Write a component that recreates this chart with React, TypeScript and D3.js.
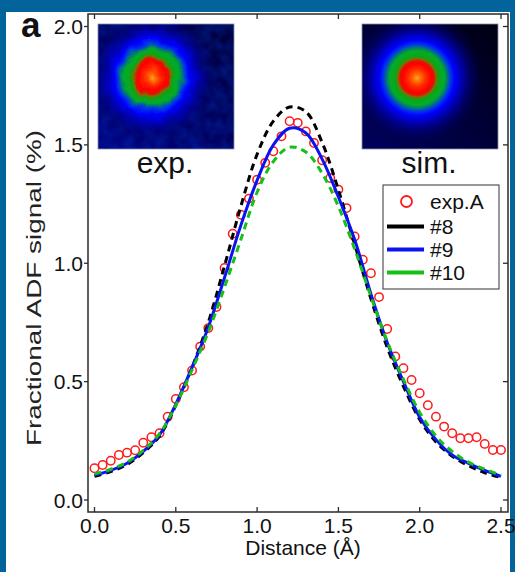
import React from "react";
import * as d3 from "d3";

// ---------- data ----------
const expX = [0, 0.05, 0.1, 0.15, 0.2, 0.25, 0.3, 0.35, 0.4, 0.45, 0.5, 0.55, 0.6, 0.65, 0.7, 0.75, 0.8, 0.85, 0.9, 0.95, 1.0, 1.05, 1.1, 1.15, 1.2, 1.25, 1.3, 1.35, 1.4, 1.45, 1.5, 1.55, 1.6, 1.65, 1.7, 1.75, 1.8, 1.85, 1.9, 1.95, 2.0, 2.05, 2.1, 2.15, 2.2, 2.25, 2.3, 2.35, 2.4, 2.45, 2.5];
const expA = [0.134, 0.148, 0.166, 0.19, 0.2, 0.21, 0.242, 0.265, 0.282, 0.352, 0.427, 0.476, 0.547, 0.648, 0.726, 0.815, 0.98, 1.125, 1.205, 1.273, 1.353, 1.424, 1.473, 1.536, 1.6, 1.593, 1.557, 1.508, 1.435, 1.36, 1.311, 1.233, 1.113, 1.015, 0.958, 0.857, 0.722, 0.606, 0.557, 0.507, 0.451, 0.4, 0.352, 0.31, 0.282, 0.261, 0.261, 0.265, 0.237, 0.211, 0.211];

const modelX = [0, 0.1, 0.2, 0.3, 0.4, 0.5, 0.6, 0.7, 0.8, 0.9, 1.0, 1.1, 1.2, 1.3, 1.4, 1.5, 1.6, 1.7, 1.8, 1.9, 2.0, 2.1, 2.2, 2.3, 2.4, 2.5];
const model8 = [0.1, 0.12, 0.15, 0.2, 0.27, 0.4, 0.56, 0.75, 0.99, 1.24, 1.46, 1.6, 1.66, 1.64, 1.51, 1.31, 1.08, 0.85, 0.645, 0.48, 0.34, 0.245, 0.185, 0.145, 0.115, 0.095];
const model9 = [0.105, 0.125, 0.155, 0.205, 0.275, 0.405, 0.56, 0.73, 0.94, 1.16, 1.35, 1.5, 1.57, 1.55, 1.44, 1.28, 1.1, 0.87, 0.665, 0.5, 0.35, 0.255, 0.19, 0.155, 0.125, 0.1];
const model10 = [0.11, 0.13, 0.16, 0.21, 0.28, 0.4, 0.55, 0.71, 0.9, 1.1, 1.3, 1.43, 1.49, 1.47, 1.38, 1.24, 1.06, 0.86, 0.67, 0.51, 0.37, 0.27, 0.205, 0.16, 0.13, 0.105];

const xTicks = [0, 0.5, 1.0, 1.5, 2.0, 2.5];
const xTickLabels = ["0.0", "0.5", "1.0", "1.5", "2.0", "2.5"];
const yTicks = [0, 0.5, 1.0, 1.5, 2.0];
const yTickLabels = ["0.0", "0.5", "1.0", "1.5", "2.0"];

const legendLabels = ["exp.A", "#8", "#9", "#10"];

// ---------- layout ----------
const W = 515;
const H = 572;
const box = { left: 88, right: 508, top: 14, bottom: 512 };
const FONT = "'Liberation Sans', Arial, Helvetica, sans-serif";
const BLUE_FRAME = "#02649b";

const x = d3.scaleLinear().domain([0, 2.5]).range([94.5, 501]);
const y = d3.scaleLinear().domain([0, 2]).range([500, 26.5]);

const line = d3
  .line<[number, number]>()
  .x((d) => x(d[0]))
  .y((d) => y(d[1]))
  .curve(d3.curveCatmullRom.alpha(0.5));

const pairs = (xs: number[], ys: number[]) => xs.map((v, i) => [v, ys[i]] as [number, number]);

const series = [
  { values: model8, color: "#000000", dash: "7,5" },
  { values: model9, color: "#0a14f0", dash: "" },
  { values: model10, color: "#16c016", dash: "7,5" },
];

const spotStops = [
  [0, "#ffa030", 1],
  [0.06, "#ff6a00", 1],
  [0.14, "#ff2800", 1],
  [0.22, "#ff0000", 1],
  [0.26, "#e01400", 1],
  [0.29, "#8a6a00", 1],
  [0.32, "#14a014", 1],
  [0.41, "#00ae28", 1],
  [0.46, "#007a70", 1],
  [0.5, "#0040e0", 1],
  [0.57, "#0000ff", 1],
  [0.67, "#0000c4", 0.9],
  [0.8, "#000088", 0.6],
  [1, "#000050", 0],
];

function Inset({ id, x0, y0, w, h, cx, cy, rough }: any) {
  return (
    <g>
      <defs>
        <clipPath id={`clip-${id}`}>
          <rect x={x0} y={y0} width={w} height={h} />
        </clipPath>
        <linearGradient id={`bg-${id}`} x1="1" y1="0" x2="0" y2="1">
          <stop offset="0" stopColor={rough ? "#00003a" : "#000012"} />
          <stop offset="1" stopColor={rough ? "#000080" : "#00005e"} />
        </linearGradient>
        <radialGradient id={`spot-${id}`}>
          {spotStops.map((s, i) => (
            <stop key={i} offset={s[0] as number} stopColor={s[1] as string} stopOpacity={s[2] as number} />
          ))}
        </radialGradient>
        <filter id={`rough-${id}`} x="-30%" y="-30%" width="160%" height="160%">
          <feTurbulence type="fractalNoise" baseFrequency="0.07" numOctaves="2" seed="4" result="noise" />
          <feDisplacementMap in="SourceGraphic" in2="noise" scale="9" xChannelSelector="R" yChannelSelector="G" />
        </filter>
        <filter id={`noise-${id}`} x="0" y="0" width="100%" height="100%">
          <feTurbulence type="fractalNoise" baseFrequency="0.09" numOctaves="2" seed="7" />
          <feColorMatrix type="matrix" values="0 0 0 0 0  0 0 0 0 0.05  0 0 0 0 0.7  0.6 0 0 0 -0.15" />
        </filter>
      </defs>
      <g clipPath={`url(#clip-${id})`}>
        <rect x={x0} y={y0} width={w} height={h} fill={`url(#bg-${id})`} />
        {rough && <rect x={x0} y={y0} width={w} height={h} fill="#000" filter={`url(#noise-${id})`} />}
        <circle cx={cx} cy={cy} r={66} fill={`url(#spot-${id})`} filter={rough ? `url(#rough-${id})` : undefined} />
      </g>
      <rect x={x0} y={y0} width={w} height={h} fill="none" stroke="#8890a8" strokeWidth={0.8} />
    </g>
  );
}

export default function App() {
  const legendRowsY = [201.5, 226.5, 249.5, 272.5];
  return (
    <svg
      width={W}
      height={H}
      style={{ position: "absolute", left: 0, top: 0, display: "block" }}
      fontFamily={FONT}
    >
      <rect x={0} y={0} width={W} height={H} fill={BLUE_FRAME} />
      <rect x={6} y={12} width={504} height={H - 12} fill="#ffffff" />

      {/* insets */}
      <Inset id="exp" x0={98} y0={24} w={136} h={125} cx={152} cy={77} rough />
      <Inset id="sim" x0={362} y0={24} w={136} h={125} cx={417} cy={78} rough={false} />
      <text x={165} y={173} fontSize={30} textAnchor="middle" fill="#111">exp.</text>
      <text x={429} y={173} fontSize={30} textAnchor="middle" fill="#111">sim.</text>

      {/* panel letter */}
      <text x={21} y={37} fontSize={35} fontWeight="bold" fill="#111">a</text>

      {/* axes box */}
      <rect
        x={box.left}
        y={box.top}
        width={box.right - box.left}
        height={box.bottom - box.top}
        fill="none"
        stroke="#2a2a2a"
        strokeWidth={1.5}
      />
      {xTicks.map((t, i) => (
        <g key={`xt${i}`}>
          <line x1={x(t)} x2={x(t)} y1={box.bottom} y2={box.bottom - 5} stroke="#2a2a2a" strokeWidth={1.3} />
          <line x1={x(t)} x2={x(t)} y1={box.top} y2={box.top + 5} stroke="#2a2a2a" strokeWidth={1.3} />
          <text x={x(t)} y={533} fontSize={21} textAnchor="middle" fill="#111">
            {xTickLabels[i]}
          </text>
        </g>
      ))}
      {yTicks.map((t, i) => (
        <g key={`yt${i}`}>
          <line x1={box.left - 4} x2={box.left} y1={y(t)} y2={y(t)} stroke="#2a2a2a" strokeWidth={1.3} />
          <line x1={box.right - 5} x2={box.right} y1={y(t)} y2={y(t)} stroke="#2a2a2a" strokeWidth={1.3} />
          <text x={83} y={y(t) + 7.5} fontSize={21} textAnchor="end" fill="#111">
            {yTickLabels[i]}
          </text>
        </g>
      ))}
      <text x={303} y={555} fontSize={21} textAnchor="middle" fill="#111">
        Distance (Å)
      </text>
      <text
        transform="translate(41,288) rotate(-90)"
        fontSize={21}
        textAnchor="middle"
        fill="#222"
        textLength={316}
        lengthAdjust="spacingAndGlyphs"
      >
        Fractional ADF signal (%)
      </text>

      {/* data */}
      {expX.map((v, i) => (
        <circle key={`e${i}`} cx={x(v)} cy={y(expA[i])} r={4.2} fill="none" stroke="#ff1a1a" strokeWidth={1.5} />
      ))}
      {series.map((s, i) => (
        <path
          key={`s${i}`}
          d={line(pairs(modelX, s.values)) || ""}
          fill="none"
          stroke={s.color}
          strokeWidth={3}
          strokeDasharray={s.dash || undefined}
        />
      ))}

      {/* legend */}
      <rect x={383} y={185} width={116} height={104} fill="#ffffff" stroke="#333" strokeWidth={1} />
      <circle cx={406.5} cy={legendRowsY[0]} r={5.5} fill="none" stroke="#ff1a1a" strokeWidth={1.8} />
      {series.map((s, i) => (
        <line
          key={`ll${i}`}
          x1={387}
          x2={424}
          y1={legendRowsY[i + 1]}
          y2={legendRowsY[i + 1]}
          stroke={s.color}
          strokeWidth={4}
        />
      ))}
      {legendLabels.map((l, i) => (
        <text key={`lt${i}`} x={430} y={legendRowsY[i] + 7.5} fontSize={21} fill="#111">
          {l}
        </text>
      ))}
    </svg>
  );
}
